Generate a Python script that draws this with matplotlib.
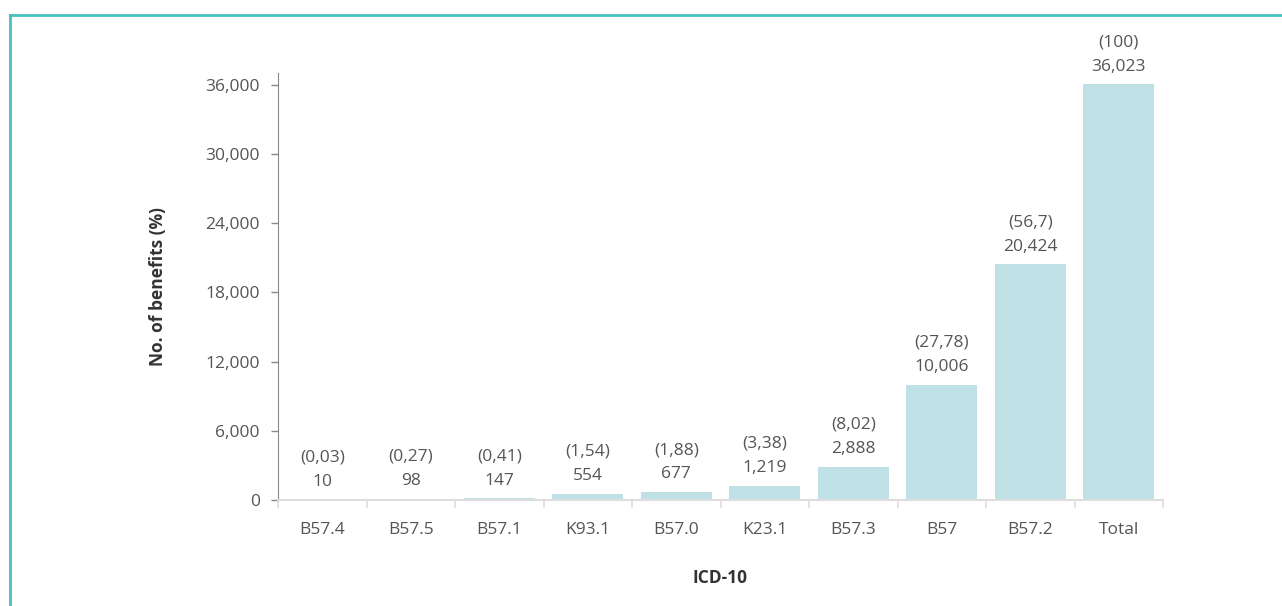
import matplotlib
matplotlib.use("Agg")
import matplotlib.pyplot as plt
from matplotlib.ticker import FuncFormatter, FixedLocator
from matplotlib.lines import Line2D

categories = ["B57.4", "B57.5", "B57.1", "K93.1", "B57.0", "K23.1", "B57.3", "B57", "B57.2", "Total"]
values = [10, 98, 147, 554, 677, 1219, 2888, 10006, 20424, 36023]
percents = ["(0,03)", "(0,27)", "(0,41)", "(1,54)", "(1,88)", "(3,38)", "(8,02)", "(27,78)", "(56,7)", "(100)"]
yticks = [0, 6000, 12000, 18000, 24000, 30000, 36000]

plt.rcParams['font.family'] = ['Open Sans', 'DejaVu Sans']
text_color = "#555555"
bar_color = "#BFE1E6"
teal = "#45C1BE"
fs = 12.5

fig = plt.figure(figsize=(12.82, 6.06), dpi=100)
ax = fig.add_axes([278/1282, 1 - 500/606, (1163 - 278)/1282, (500 - 73)/606])

x = list(range(len(categories)))
ax.bar(x, values, width=0.8, color=bar_color, zorder=2)
ax.set_xlim(-0.5, len(categories) - 0.5)
ax.set_ylim(0, 37000)

for xi, v, p in zip(x, values, percents):
    ax.annotate(f"{p}\n{v:,}", (xi, v), xytext=(0, 7), textcoords="offset points",
                ha="center", va="bottom", fontsize=fs, color=text_color, linespacing=1.7)

ax.set_xticks(x)
ax.set_xticklabels(categories, fontsize=fs, color=text_color)
ax.xaxis.set_minor_locator(FixedLocator([i + 0.5 for i in range(-1, len(categories))]))
ax.tick_params(axis="x", which="major", length=0, pad=16)
ax.tick_params(axis="x", which="minor", length=6, color="#dddddd", width=1.2)

ax.set_yticks(yticks)
ax.yaxis.set_major_formatter(FuncFormatter(lambda v, _: f"{int(v):,}"))
ax.tick_params(axis="y", length=5, color="#888888", width=1, labelsize=fs, labelcolor=text_color, pad=8)

for s in ["top", "right"]:
    ax.spines[s].set_visible(False)
ax.spines["left"].set_color("#888888")
ax.spines["bottom"].set_color("#dddddd")
ax.spines["bottom"].set_linewidth(1.5)

ax.set_ylabel("No. of benefits (%)", fontsize=12.5, fontweight="bold", color="#333333", labelpad=28)
ax.set_xlabel("ICD-10", fontsize=12.5, fontweight="bold", color="#333333", labelpad=22)

# teal frame (top and left)
fig.add_artist(Line2D([10/1282, 1.0], [1 - 15/606, 1 - 15/606], transform=fig.transFigure, color=teal, lw=2))
fig.add_artist(Line2D([10/1282, 10/1282], [0, 1 - 15/606], transform=fig.transFigure, color=teal, lw=2))

fig.savefig("out.png", dpi=100)
